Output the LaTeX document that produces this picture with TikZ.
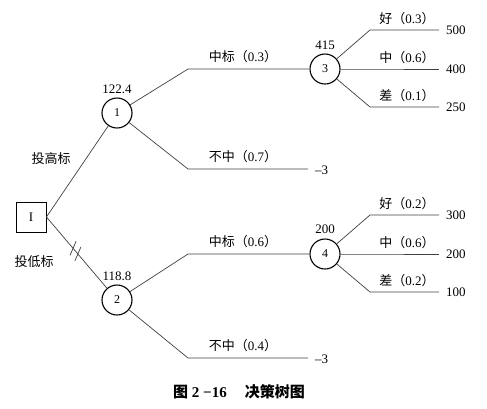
\documentclass[tikz,border=0pt]{standalone}
\usepackage{fontspec}
\setmainfont{Liberation Serif}
\newfontfamily\cjk{Noto Sans CJK SC}
\usetikzlibrary{calc,positioning}

% branch text: event and probability
\newcommand{\evt}[2]{{\cjk #1（}#2{\cjk ）}}

\begin{document}
\begin{tikzpicture}[x=1pt, y=-1pt, font=\fontsize{13}{15}\selectfont,
  chance/.style={circle, draw, line width=1.1pt, minimum size=30pt, inner sep=0pt, font=\fontsize{12}{14}\selectfont},
  decision/.style={rectangle, draw, line width=0.9pt, minimum size=30pt, inner sep=0pt},
  branch/.style={black!75, line width=0.7pt}]
 \useasboundingbox (0,0) rectangle (487,408);

 % Decision node and chance nodes
 \node[decision] (I) at (31,217) {I};
 \node[chance] (n1) at (117,113) {1};
 \node[chance] (n2) at (117,300) {2};
 \node[chance] (n3) at (325,69) {3};
 \node[chance] (n4) at (325,254) {4};

 % Expected values
 \node (v1) at (117,89) {122.4};
 \node (v2) at (117,276) {118.8};
 \node (v3) at (325,45) {415};
 \node (v4) at (325,229) {200};

 % Decision branches
 \draw[branch] (I.east) -- (n1);
 \draw[branch] (I.east) -- (n2);
 \node (hi) at (51,159) {\cjk 投高标};
 \node (lo) at (34,262) {\cjk 投低标};
 \path (I.east) -- (n2) coordinate[pos=0.44] (cut1) coordinate[pos=0.52] (cut2);
 \draw[branch] ([shift={(-3,7)}]cut1) -- ([shift={(3,-7)}]cut1);
 \draw[branch] ([shift={(-3,7)}]cut2) -- ([shift={(3,-7)}]cut2);

 % Node 1
 \coordinate (k1a) at (188,69);
 \coordinate (k1b) at (188,169);
 \coordinate (e1b) at (308,169);
 \draw[branch] (n1) -- (k1a) -- (n3);
 \draw[branch] (n1) -- (k1b) -- (e1b);
 \node (l1a) at (243,57) {\evt{中标}{0.3}};
 \node (l1b) at (243,157) {\evt{不中}{0.7}};
 \node (r1b) at (315,170) [anchor=west, inner sep=0pt] {–3};

 % Node 2
 \coordinate (k2a) at (188,254);
 \coordinate (k2b) at (188,358);
 \coordinate (e2b) at (308,358);
 \draw[branch] (n2) -- (k2a) -- (n4);
 \draw[branch] (n2) -- (k2b) -- (e2b);
 \node (l2a) at (243,242) {\evt{中标}{0.6}};
 \node (l2b) at (243,346) {\evt{不中}{0.4}};
 \node (r2b) at (315,359) [anchor=west, inner sep=0pt] {–3};

 % Outcomes of node 3
 \foreach \name/\y/\lab/\p/\val in {a/30/好/0.3/500, b/69/中/0.6/400, c/107/差/0.1/250} {
   \coordinate (k3\name) at (370,\y);
   \coordinate (e3\name) at (439,\y);
   \draw[branch] (n3) -- (k3\name) -- (e3\name);
   \node (l3\name) at (407,{\y-11}) {\evt{\lab}{\p}};
   \node (r3\name) at (446,\y) [anchor=west, inner sep=0pt] {\val};
 }

 % Outcomes of node 4
 \foreach \name/\y/\lab/\p/\val in {a/215/好/0.2/300, b/254/中/0.6/200, c/292/差/0.2/100} {
   \coordinate (k4\name) at (370,\y);
   \coordinate (e4\name) at (439,\y);
   \draw[branch] (n4) -- (k4\name) -- (e4\name);
   \node (l4\name) at (407,{\y-11}) {\evt{\lab}{\p}};
   \node (r4\name) at (446,\y) [anchor=west, inner sep=0pt] {\val};
 }

 % Caption
 \node (cap) at (239,392) {\fontsize{15}{17}\selectfont\bfseries{\cjk 图} 2 −16\hspace{1.2em}{\cjk 决策树图}};
\end{tikzpicture}
\end{document}
